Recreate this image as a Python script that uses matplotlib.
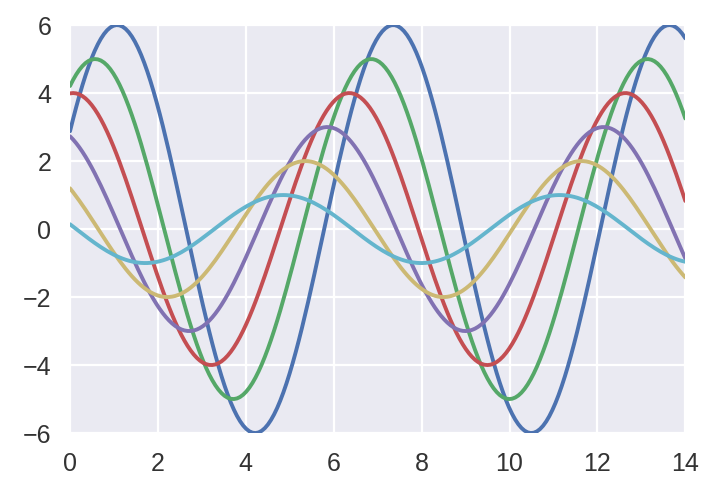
import numpy as np
import matplotlib
matplotlib.use("Agg")
import matplotlib.pyplot as plt
import seaborn as sns

# curve parameters: y = amp * sin(x + phase)
AMPS = [6, 5, 4, 3, 2, 1]
PHASES = [0.5, 1.0, 1.5, 2.0, 2.5, 3.0]
COLORS = ["#4C72B0", "#55A868", "#C44E52", "#8172B2", "#CCB974", "#64B5CD"]
XTICKS = [0, 2, 4, 6, 8, 10, 12, 14]
YTICKS = [-6, -4, -2, 0, 2, 4, 6]

sns.set_style("darkgrid")
plt.rcParams['font.family'] = ['Liberation Sans', 'DejaVu Sans']

fig = plt.figure(figsize=(7.18, 4.91), dpi=100)
ax = fig.add_axes([0.0975, 0.118, 0.857, 0.831])

x = np.linspace(0, 14, 200)
for amp, ph, c in zip(AMPS, PHASES, COLORS):
    ax.plot(x, amp * np.sin(x + ph), color=c, lw=2.8)

ax.set_xlim(0, 14)
ax.set_ylim(-6, 6)
ax.set_xticks(XTICKS)
ax.set_yticks(YTICKS)
ax.grid(color="white", lw=1.6)
ax.tick_params(labelsize=18, colors="#333333", pad=10)
for s in ax.spines.values():
    s.set_visible(False)

fig.savefig("out.png", dpi=100)
